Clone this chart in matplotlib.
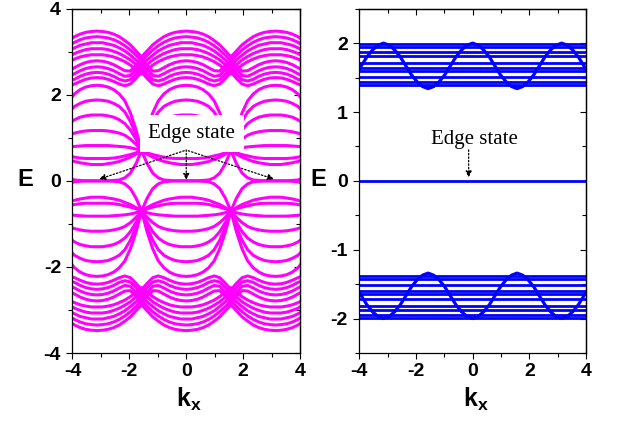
import numpy as np
import matplotlib
matplotlib.use("Agg")
import matplotlib.pyplot as plt
from matplotlib.ticker import MultipleLocator

plt.rcParams['font.family'] = ['Liberation Sans', 'DejaVu Sans']
plt.rcParams['font.weight'] = 'bold'
plt.rcParams['axes.unicode_minus'] = False
plt.rcParams['mathtext.fontset'] = 'custom'
plt.rcParams['mathtext.rm'] = 'Liberation Sans:bold'
plt.rcParams['mathtext.bf'] = 'Liberation Sans:bold'
plt.rcParams['mathtext.it'] = 'Liberation Sans:bold'

# k samples over half a period [0, pi/2]; curves are even and pi-periodic
K_HALF = np.linspace(0, np.pi / 2, 9)

# ---- left panel (E > 0 half, E < 0 is the mirror image) ----
edge_band = [0.00, 0.00, 0.00, 0.01, 0.02, 0.07, 0.18, 0.40, 0.70]
family_a = [
    [2.22, 2.21, 2.18, 2.12, 2.02, 1.86, 1.58, 1.19, 0.70],
    [1.88, 1.87, 1.85, 1.80, 1.73, 1.60, 1.38, 1.08, 0.70],
    [1.53, 1.53, 1.51, 1.48, 1.42, 1.33, 1.18, 0.97, 0.70],
    [1.17, 1.17, 1.16, 1.14, 1.11, 1.06, 0.97, 0.85, 0.70],
    [0.82, 0.82, 0.82, 0.81, 0.80, 0.79, 0.77, 0.74, 0.70],
    [0.52, 0.52, 0.52, 0.53, 0.55, 0.58, 0.61, 0.65, 0.70],
    [0.38, 0.38, 0.40, 0.42, 0.45, 0.50, 0.55, 0.62, 0.70],
]
family_b_down = [
    [3.48, 3.47, 3.45, 3.41, 3.35, 3.26, 3.16, 3.02, 2.88],
    [3.35, 3.34, 3.32, 3.28, 3.22, 3.14, 3.04, 2.92, 2.78],
    [3.21, 3.21, 3.18, 3.15, 3.09, 3.02, 2.92, 2.81, 2.68],
    [3.07, 3.07, 3.05, 3.01, 2.96, 2.89, 2.81, 2.70, 2.58],
    [2.93, 2.93, 2.91, 2.88, 2.83, 2.77, 2.69, 2.59, 2.48],
]
family_b_up = [
    [2.79, 2.78, 2.75, 2.70, 2.63, 2.56, 2.55, 2.68, 2.83],
    [2.65, 2.64, 2.61, 2.56, 2.49, 2.43, 2.45, 2.59, 2.73],
    [2.52, 2.51, 2.48, 2.43, 2.36, 2.32, 2.35, 2.48, 2.63],
    [2.40, 2.39, 2.36, 2.31, 2.25, 2.21, 2.25, 2.38, 2.53],
]

# ---- right panel ----
flat_levels = [1.985, 1.95, 1.87, 1.82, 1.71, 1.64, 1.60, 1.515, 1.43, 1.385]
cos_band = [2.00, 1.97, 1.90, 1.80, 1.67, 1.54, 1.44, 1.37, 1.34]
zero_level = 0.0

x_ticks_major = [-4, -2, 0, 2, 4]

MAGENTA = '#FF00FF'
BLUE = '#0000FF'


def tile(vals):
    v = np.asarray(vals, dtype=float)
    xs, ys = [], []
    for n in range(-2, 2):
        b = n * np.pi
        xs.append(b + K_HALF)
        ys.append(v)
        xs.append(b + np.pi - K_HALF[::-1])
        ys.append(v[::-1])
    return np.concatenate(xs), np.concatenate(ys)


def style_axes(ax, ymaj, ymin):
    for s in ax.spines.values():
        s.set_linewidth(0.9)
    ax.xaxis.set_major_locator(MultipleLocator(2))
    ax.xaxis.set_minor_locator(MultipleLocator(1))
    ax.yaxis.set_major_locator(MultipleLocator(ymaj))
    ax.yaxis.set_minor_locator(MultipleLocator(ymin))
    ax.tick_params(which='both', direction='out', top=False, right=False,
                   width=0.8, labelsize=14)
    ax.tick_params(which='major', length=4.2)
    ax.tick_params(which='minor', length=2.6)
    ax.tick_params(axis='x', pad=3)
    ax.tick_params(axis='y', pad=4)
    sx = ax.secondary_xaxis('top')
    sx.xaxis.set_major_locator(MultipleLocator(2))
    sx.xaxis.set_minor_locator(MultipleLocator(1))
    sx.tick_params(which='both', direction='in', labeltop=False,
                   labelbottom=False, width=0.8)
    sx.tick_params(which='major', length=4.2)
    sx.tick_params(which='minor', length=2.8)
    sy = ax.secondary_yaxis('right')
    sy.yaxis.set_major_locator(MultipleLocator(ymaj))
    sy.yaxis.set_minor_locator(MultipleLocator(ymin))
    sy.tick_params(which='both', direction='in', labelright=False,
                   labelleft=False, width=0.8)
    sy.tick_params(which='major', length=4.2)
    sy.tick_params(which='minor', length=2.8)
    for s in sx.spines.values():
        s.set_linewidth(0.9)
    for s in sy.spines.values():
        s.set_linewidth(0.9)


fig = plt.figure(figsize=(6.17, 4.21), dpi=100)
ax1 = fig.add_axes([0.1175, 0.1615, 0.3687, 0.8178])
ax2 = fig.add_axes([0.5823, 0.1615, 0.3674, 0.8178])

# left panel bands
lw = 2.2
for band in [edge_band] + family_a + family_b_down + family_b_up:
    x, y = tile(band)
    ax1.plot(x, y, color=MAGENTA, lw=lw, solid_joinstyle='round')
    ax1.plot(x, -y, color=MAGENTA, lw=lw, solid_joinstyle='round')

ax1.set_xlim(-4, 4)
ax1.set_ylim(-4, 4)
ax1.set_xticks(x_ticks_major)
style_axes(ax1, 2, 1)

# right panel bands
lw2 = 2.0
for lev in flat_levels:
    ax2.axhline(lev, color=BLUE, lw=lw2)
    ax2.axhline(-lev, color=BLUE, lw=lw2)
ax2.axhline(zero_level, color=BLUE, lw=lw2)
xc, yc = tile(cos_band)
ax2.plot(xc, yc, color=BLUE, lw=2.3, solid_joinstyle='round')
ax2.plot(xc, -yc, color=BLUE, lw=2.3, solid_joinstyle='round')
ax2.set_xlim(-4, 4)
ax2.set_ylim(-2.5, 2.5)
style_axes(ax2, 1, 0.5)

# axis labels
for ax, xl, yl in [(ax1, 0.512, -0.209), (ax2, 0.515, -0.181)]:
    ax.set_ylabel('E', rotation=0, fontsize=17, fontweight='bold',
                  ha='center', va='center')
    ax.yaxis.set_label_coords(yl, 0.505)
    ax.set_xlabel(r'$\mathbf{k_x}$', fontsize=18, ha='center', va='center')
    ax.xaxis.set_label_coords(xl, -0.135)

# annotations
arrow_kw = dict(arrowstyle='-|>', linestyle=(0, (1.2, 1.6)), color='black',
                lw=0.9, mutation_scale=9, shrinkA=0, shrinkB=0)
ax1.text(0.20, 1.0, 'Edge state', ha='center', va='baseline', fontsize=15,
         family='Liberation Serif', fontweight='normal', zorder=5,
         bbox=dict(boxstyle='square,pad=0.42', facecolor='white',
                   edgecolor='none'))
for (x0, y0, x1, y1) in [(-0.07, 0.70, -3.06, 0.04),
                         (0.0, 0.72, 0.0, 0.02),
                         (0.07, 0.70, 3.085, 0.04)]:
    ax1.annotate('', xy=(x1, y1), xytext=(x0, y0), arrowprops=arrow_kw,
                 zorder=6)

ax2.text(0.08, 0.534, 'Edge state', ha='center', va='baseline', fontsize=15,
         family='Liberation Serif', fontweight='normal', zorder=5)
ax2.annotate('', xy=(-0.14, 0.05), xytext=(-0.14, 0.45), arrowprops=arrow_kw,
             zorder=6)

fig.savefig('out.png', dpi=100)
